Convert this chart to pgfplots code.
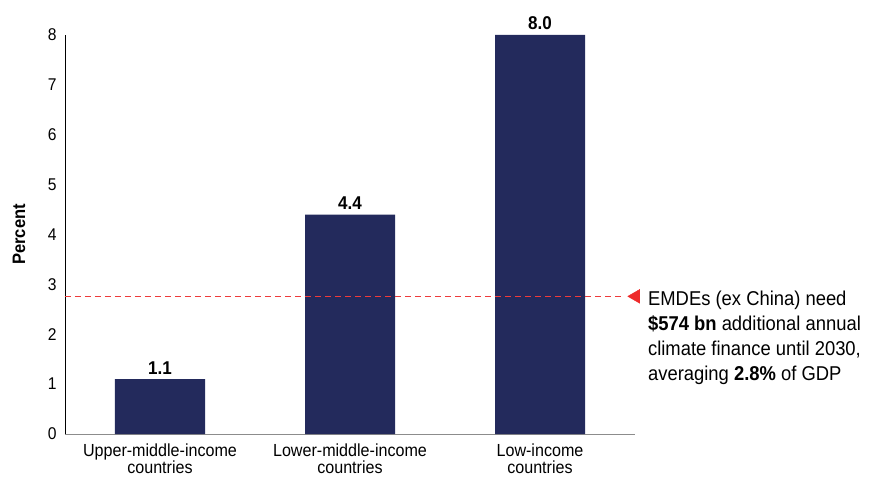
\documentclass[border=0pt]{standalone}
\usepackage{pgfplots}
\pgfplotsset{compat=1.18}
\usepackage{fontspec}
\setmainfont{Liberation Sans}[FakeStretch=0.92]
\definecolor{navy}{HTML}{232A5C}
\definecolor{dred}{HTML}{EE3B3B}
\definecolor{tred}{HTML}{EE2A2A}
\begin{document}
\begin{tikzpicture}
\path[use as bounding box] (-65pt,-45pt) rectangle (810pt,434pt);
\begin{axis}[
  at={(0pt,0pt)}, anchor=south west,
  scale only axis, width=570pt, height=399pt,
  xmin=-0.5, xmax=2.5, ymin=0, ymax=8,
  clip=false,
  axis x line=bottom, axis y line=left,
  x axis line style={-, draw=gray!90, line width=0.8pt},
  y axis line style={-, draw=black, line width=0.6pt},
  major tick length=0pt,
  ytick={0,1,2,3,4,5,6,7,8},
  xtick={0,1,2},
  xticklabels={Upper-middle-income\\countries, Lower-middle-income\\countries, Low-income\\countries},
  /pgf/number format/assume math mode=true,
  yticklabel style={font=\fontsize{17}{18}\selectfont, xshift=-5pt},
  xticklabel style={align=center, font=\fontsize{17.5}{17}\selectfont, yshift=-6pt},
  ylabel={\textbf{Percent}},
  ylabel style={at={(rel axis cs:0,0.5)}, yshift=46pt, anchor=center, font=\fontsize{18}{20}\selectfont},
  ybar, bar width=90pt, bar shift=0pt,
]
\addplot[fill=navy, draw=none,
  nodes near coords,
  nodes near coords style={font=\bfseries\fontsize{18.5}{20}\selectfont, text=black, yshift=1.5pt, /pgf/number format/.cd, fixed, fixed zerofill, precision=1},
  ] coordinates {(0,1.1) (1,4.4) (2,8.0)};
\addplot[sharp plot, dred, line width=1pt, dash pattern=on 6pt off 4pt] coordinates {(-0.5,2.76) (2.43,2.76)};
\addplot[only marks, mark=triangle*, mark size=8pt, color=tred, mark options={rotate=90}] coordinates {(2.504,2.76)};
\node[anchor=north west, align=left, inner sep=0pt, font=\fontsize{20}{25}\selectfont] at (axis cs:2.568,2.873)
 {EMDEs (ex China) need\\ \textbf{\$574 bn} additional annual\\ climate finance until 2030,\\ averaging \textbf{2.8\%} of GDP};
\end{axis}
\end{tikzpicture}
\end{document}
